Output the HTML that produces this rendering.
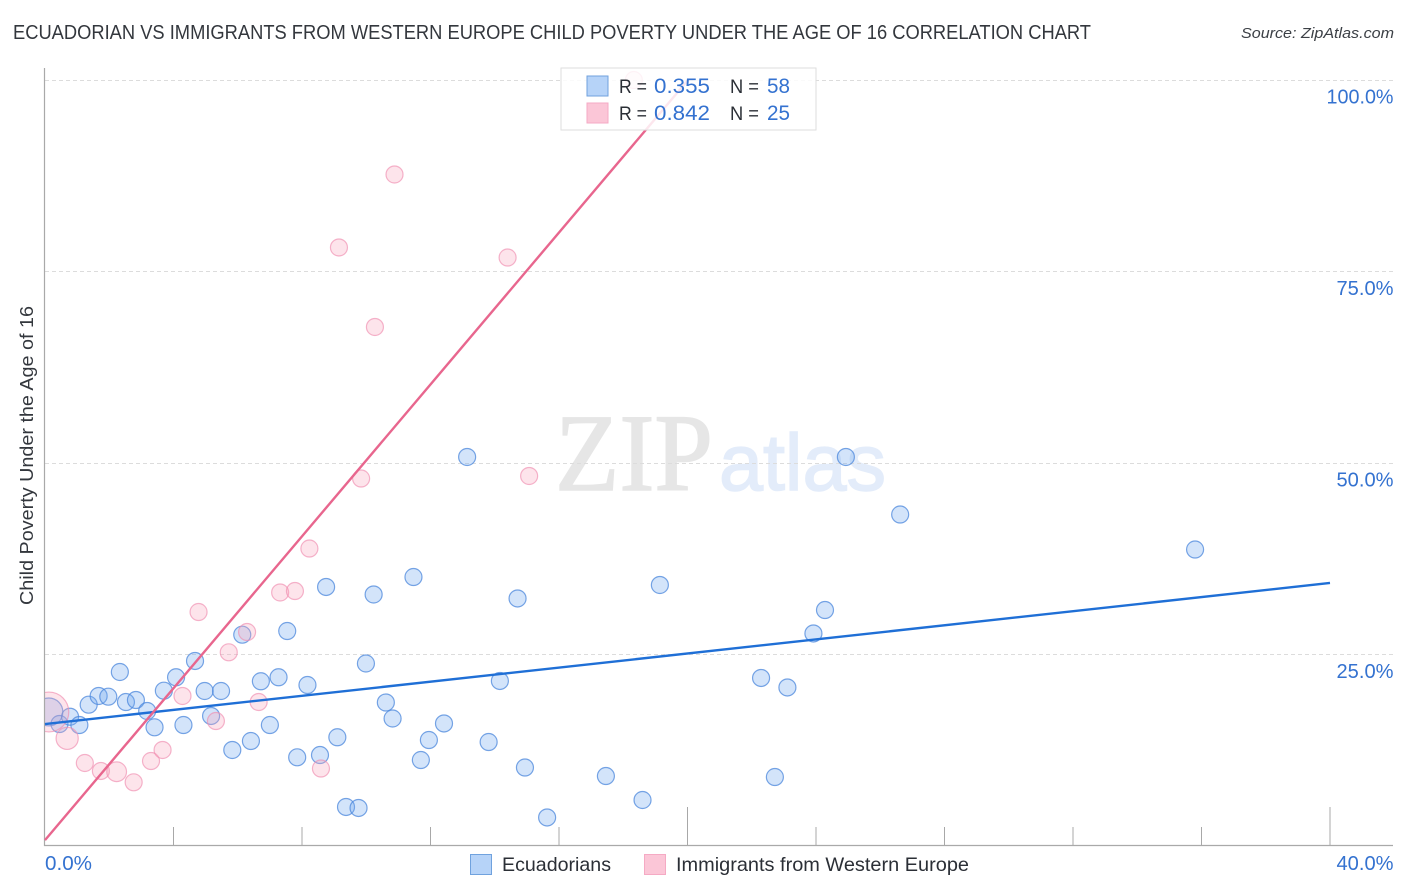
<!DOCTYPE html>
<html lang="en">
<head>
<meta charset="utf-8">
<title>Ecuadorian vs Immigrants from Western Europe Child Poverty Correlation Chart</title>
<style>
html,body{margin:0;padding:0;background:#fff;width:1406px;height:892px;overflow:hidden}
svg{display:block}
text{font-family:"Liberation Sans",sans-serif}
</style>
</head>
<body>
<svg id="chart" xmlns="http://www.w3.org/2000/svg" width="1406" height="892" viewBox="0 0 1406 892">
  <rect width="1406" height="892" fill="#fff"/>
  <text x="13" y="39" font-size="20" fill="#33373d" textLength="1078" lengthAdjust="spacingAndGlyphs">ECUADORIAN VS IMMIGRANTS FROM WESTERN EUROPE CHILD POVERTY UNDER THE AGE OF 16 CORRELATION CHART</text>
  <text x="1241" y="38" font-size="15" font-style="italic" fill="#3c4046" textLength="153" lengthAdjust="spacingAndGlyphs">Source: ZipAtlas.com</text>
  <g id="watermark">
    <text x="555" y="490" style="font-family:'Liberation Serif',serif" font-size="110" fill="#e6e6e6" stroke="#e6e6e6" stroke-width="1.5" textLength="158" lengthAdjust="spacingAndGlyphs">ZIP</text>
    <text x="719" y="490" font-size="80" fill="#e3ecfa" stroke="#e3ecfa" stroke-width="1.5" textLength="167" lengthAdjust="spacingAndGlyphs">atlas</text>
  </g>
  <g id="grid"></g>
  <g>
    <g id="series-a"></g>
    <g id="series-b"></g>
  </g>
  <rect x="0" y="60" width="44.5" height="786" fill="#fff"/>
  <g id="axes"></g>
  <g id="trends"></g>
  <g id="ylabels"></g>
  <g id="xlabels"></g>
  <text transform="translate(33 455.5) rotate(-90)" text-anchor="middle" font-size="18" fill="#33373d" textLength="299" lengthAdjust="spacingAndGlyphs">Child Poverty Under the Age of 16</text>

  <g>
    <rect x="561" y="68" width="255" height="62" fill="#fff" fill-opacity="0.84" stroke="#dedede" stroke-width="1"/>
    <rect x="587" y="76" width="21" height="20" fill="#b6d3f8" stroke="#70a2de"/>
    <rect x="587" y="103" width="21" height="20" fill="#fbc6d7" stroke="#f5aac4"/>
    <text x="619" y="93" font-size="19" fill="#2b2f36" textLength="28" lengthAdjust="spacingAndGlyphs">R =</text>
    <text x="654" y="93" font-size="21" fill="#3472d0" textLength="56" lengthAdjust="spacingAndGlyphs">0.355</text>
    <text x="730" y="93" font-size="19" fill="#2b2f36" textLength="29" lengthAdjust="spacingAndGlyphs">N =</text>
    <text x="767" y="93" font-size="21" fill="#3472d0" textLength="23" lengthAdjust="spacingAndGlyphs">58</text>
    <text x="619" y="120" font-size="19" fill="#2b2f36" textLength="28" lengthAdjust="spacingAndGlyphs">R =</text>
    <text x="654" y="120" font-size="21" fill="#3472d0" textLength="56" lengthAdjust="spacingAndGlyphs">0.842</text>
    <text x="730" y="120" font-size="19" fill="#2b2f36" textLength="29" lengthAdjust="spacingAndGlyphs">N =</text>
    <text x="767" y="120" font-size="21" fill="#3472d0" textLength="23" lengthAdjust="spacingAndGlyphs">25</text>
  </g>

  <g>
    <rect x="470.5" y="854.5" width="21" height="20" fill="#b6d3f8" stroke="#70a2de"/>
    <text x="502" y="871" font-size="19.5" fill="#2b2f36" textLength="109" lengthAdjust="spacingAndGlyphs">Ecuadorians</text>
    <rect x="644.5" y="854.5" width="21" height="20" fill="#fbc6d7" stroke="#f5aac4"/>
    <text x="676" y="871" font-size="19.5" fill="#2b2f36" textLength="293" lengthAdjust="spacingAndGlyphs">Immigrants from Western Europe</text>
  </g>
</svg>
<script>
const ecuadorianX = [0.12,0.45,0.78,1.07,1.36,1.67,1.97,2.33,2.52,2.83,3.18,3.41,3.70,4.08,4.31,4.67,4.97,5.48,5.17,5.83,6.41,6.14,6.72,7.27,7.54,7.00,7.85,8.17,8.56,9.10,9.37,9.76,8.75,10.23,9.99,10.61,10.82,11.47,11.70,11.95,12.42,13.14,13.81,14.16,14.71,14.94,15.63,17.46,18.60,19.14,22.29,23.11,22.72,23.92,24.28,24.93,26.62,35.80];
const ecuadorianY = [17.43,15.86,16.81,15.73,18.38,19.52,19.43,22.65,18.73,18.99,17.56,15.43,20.21,21.96,15.73,24.09,20.17,20.17,16.91,12.47,13.64,27.52,21.44,21.96,28.00,15.73,11.51,20.95,11.81,14.13,5.03,4.90,33.75,32.77,23.76,18.67,16.58,35.05,11.16,13.77,15.93,50.72,13.51,21.48,32.25,10.18,3.66,9.07,5.94,34.01,21.87,20.63,8.94,27.68,30.74,50.72,43.21,38.64];
const ecuadorianWeight = [2.7,1,1,1,1,1,1,1,1,1,1,1,1,1,1,1,1,1,1,1,1,1,1,1,1,1,1,1,1,1,1,1,1,1,1,1,1,1,1,1,1,1,1,1,1,1,1,1,1,1,1,1,1,1,1,1,1,1];
const immigrantX = [0.12,0.69,1.24,1.74,2.23,2.76,3.30,3.66,4.28,4.78,5.32,5.72,6.29,6.65,7.32,7.78,8.59,8.23,9.84,9.15,10.27,10.88,14.40,15.07,18.33];
const immigrantY = [17.43,13.99,10.77,9.73,9.63,8.25,11.03,12.47,19.52,30.48,16.25,25.22,27.87,18.73,33.03,33.22,10.05,38.77,47.91,78.07,67.69,87.60,76.76,48.24,99.93];
const immigrantWeight = [5.5,1.7,1,1,1.35,1,1,1,1,1,1,1,1,1,1,1,1,1,1,1,1,1,1,1,1];
const ecuadorianTrendX = [0,40];
const ecuadorianTrendY = [15.86,34.27];
const immigrantTrendX = [0,20.03];
const immigrantTrendY = [0.7,100];
const yTickValues = [25,50,75,100];
const yTickLabels = ['25.0%','50.0%','75.0%','100.0%'];
const xTickValues = [4,8,12,16,20,24,28,32,36,40];
const xMajorTicks = [20,40];
const xEndValues = [0,40];
const xEndLabels = ['0.0%','40.0%'];

const NS = 'http://www.w3.org/2000/svg';
const xScale = v => 45 + v * 32.125;
const yScale = v => 845.5 - v * 7.66;
const rScale = w => Math.sqrt(w) * 8.5;
const labelWidth = s => 7 + 10 * s.length;
function make(tag, attrs, parent) {
  const el = document.createElementNS(NS, tag);
  for (const k in attrs) el.setAttribute(k, attrs[k]);
  parent.appendChild(el);
  return el;
}
const gridG = document.getElementById('grid');
const axesG = document.getElementById('axes');
const seriesA = document.getElementById('series-a');
const seriesB = document.getElementById('series-b');
const trendsG = document.getElementById('trends');
const yLabelsG = document.getElementById('ylabels');
const xLabelsG = document.getElementById('xlabels');

yTickValues.forEach((v, i) => {
  const y = Math.round(yScale(v)) + 0.5;
  const line = make('line', {x1: 45, x2: 1393, y1: y, y2: y, stroke: '#dcdcdc', 'stroke-width': 1, 'stroke-dasharray': '4 3'}, gridG);
  
  
  const w = labelWidth(yTickLabels[i]);
  const t = make('text', {x: 1393.5 - w, y: yScale(v) + 24, 'font-size': 20, fill: '#3472d0', textLength: w, lengthAdjust: 'spacingAndGlyphs'}, yLabelsG);
  t.textContent = yTickLabels[i];
  
  
});

const yAxis = make('line', {x1: 44.5, x2: 44.5, y1: 68, y2: 846, stroke: '#a9a9a9', 'stroke-width': 1.2}, axesG);


const xAxis = make('line', {x1: 44, x2: 1393, y1: 845.5, y2: 845.5, stroke: '#a9a9a9', 'stroke-width': 1.2}, axesG);



xTickValues.forEach(v => {
  const x = xScale(v);
  const top = xMajorTicks.includes(v) ? 807 : 827;
  const tick = make('line', {x1: x, x2: x, y1: top, y2: 845, stroke: '#a8a8a8', 'stroke-width': 1}, axesG);
  
  
});

xEndValues.forEach((v, i) => {
  const first = i === 0;
  const w = labelWidth(xEndLabels[i]);
  const t = make('text', {x: first ? xScale(v) : 1393.5 - w, y: 870, 'font-size': 20, fill: '#3472d0', textLength: w, lengthAdjust: 'spacingAndGlyphs'}, xLabelsG);
  t.textContent = xEndLabels[i];
  
  
});

ecuadorianX.forEach((v, i) => {
  const c = make('circle', {cx: xScale(v), cy: yScale(ecuadorianY[i]), r: rScale(ecuadorianWeight[i]), fill: 'rgba(110,165,240,0.3)', stroke: 'rgba(75,135,220,0.75)', 'stroke-width': 1.2}, seriesA);
  
  
});
immigrantX.forEach((v, i) => {
  const c = make('circle', {cx: xScale(v), cy: yScale(immigrantY[i]), r: rScale(immigrantWeight[i]), fill: 'rgba(248,165,190,0.3)', stroke: 'rgba(240,140,175,0.65)', 'stroke-width': 1.2}, seriesB);
  
  
});

const trendA = make('line', {x1: xScale(ecuadorianTrendX[0]), y1: yScale(ecuadorianTrendY[0]), x2: xScale(ecuadorianTrendX[1]), y2: yScale(ecuadorianTrendY[1]), stroke: '#1f6fd6', 'stroke-width': 2.4}, trendsG);


const trendB = make('line', {x1: xScale(immigrantTrendX[0]), y1: yScale(immigrantTrendY[0]), x2: xScale(immigrantTrendX[1]), y2: yScale(immigrantTrendY[1]), stroke: '#e8668e', 'stroke-width': 2.4}, trendsG);


</script>
</body>
</html>
